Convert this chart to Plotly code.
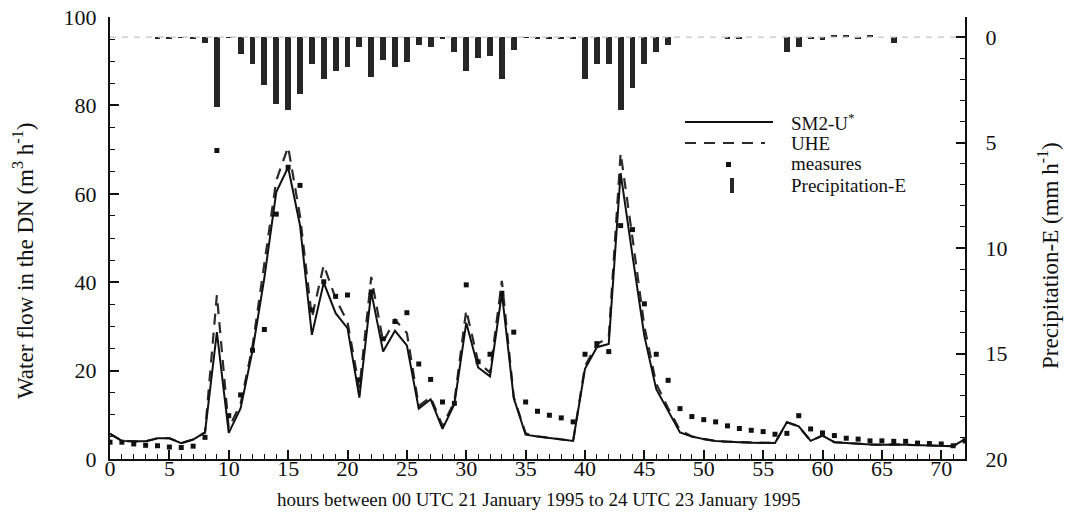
import plotly.graph_objects as go

# Hourly time axis (hours after 00 UTC 21 January 1995)
hours = list(range(73))

# Simulated water flow, SM2-U* model (m3/h)
sm2u = [5.7, 4.1, 4.0, 4.0, 4.7, 4.7, 3.6, 4.4, 6.0, 28.7,
        5.9, 11.5, 24.5, 41.0, 60.4, 66.0, 52.9, 28.1, 39.9, 33.0,
        29.6, 13.9, 37.8, 24.3, 29.0, 25.7, 11.4, 13.5, 6.8, 12.4,
        30.8, 20.7, 18.7, 37.5, 13.8, 5.5, 5.1, 4.8, 4.5, 4.1,
        20.4, 25.3, 26.0, 64.7, 46.0, 27.8, 15.8, 10.9, 6.0, 5.1,
        4.5, 4.1, 3.9, 3.8, 3.7, 3.6, 3.6, 8.3, 7.4, 4.1,
        5.3, 3.8, 3.6, 3.5, 3.3, 3.2, 3.3, 3.2, 3.1, 3.0,
        2.9, 2.9, 4.5]

# Simulated water flow, UHE model (m3/h)
uhe = [5.7, 4.1, 4.0, 4.0, 4.7, 4.7, 3.6, 4.4, 6.0, 37.1,
       7.0, 12.5, 25.5, 44.0, 63.0, 70.6, 55.0, 32.0, 43.9, 36.3,
       31.0, 16.0, 41.2, 26.5, 31.5, 28.5, 12.0, 14.0, 7.5, 13.0,
       33.7, 22.0, 19.5, 40.3, 14.0, 5.8, 5.1, 4.8, 4.5, 4.1,
       21.0, 26.0, 27.5, 69.2, 50.0, 30.0, 17.0, 11.5, 6.5, 5.1,
       4.5, 4.1, 3.9, 3.8, 3.7, 3.6, 3.6, 8.3, 7.4, 4.1,
       5.3, 3.8, 3.6, 3.5, 3.3, 3.2, 3.3, 3.2, 3.1, 3.0,
       2.9, 2.9, 4.5]

# Measured water flow (m3/h)
measures = [3.8, 3.8, 3.4, 3.1, 3.0, 2.7, 2.6, 2.9, 4.9, 69.8,
            9.8, 14.5, 24.6, 29.3, 55.4, 66.0, 61.9, 33.7, 40.1, 36.8,
            37.1, 17.9, 37.8, 27.2, 31.1, 33.1, 21.5, 18.0, 12.9, 12.6,
            39.4, 22.0, 23.7, 37.5, 28.7, 12.9, 10.8, 9.9, 9.3, 8.4,
            23.7, 26.1, 24.3, 52.8, 51.9, 35.1, 23.7, 17.8, 11.4, 9.6,
            8.9, 8.4, 7.5, 6.9, 6.5, 6.2, 5.6, 5.8, 9.8, 6.8,
            5.9, 5.3, 4.7, 4.5, 4.1, 4.1, 4.0, 4.0, 3.6, 3.5,
            3.4, 3.0, 4.1]

# Precipitation minus evaporation (mm/h)
precip = [0.0, 0.0, 0.0, 0.0, 0.07, 0.07, 0.03, 0.07, 0.3, 3.3,
          0.03, 0.79, 1.29, 2.29, 3.18, 3.47, 2.68, 1.29, 2.0, 1.6,
          1.4, 0.47, 1.89, 1.09, 1.4, 1.2, 0.4, 0.47, 0.05, 0.71,
          1.61, 1.01, 0.9, 2.0, 0.6, 0.02, 0.05, 0.05, 0.05, 0.05,
          2.0, 1.29, 1.29, 3.47, 2.4, 1.29, 0.71, 0.4, 0.0, 0.0,
          0.0, 0.0, 0.07, 0.05, 0.0, 0.0, 0.0, 0.69, 0.47, 0.1,
          0.12, -0.1, -0.12, 0.08, -0.1, 0.0, 0.27, 0.0, 0.0, 0.0,
          0.0, 0.0, 0.0]

x_ticks = list(range(0, 71, 5))
flow_ticks = [0, 20, 40, 60, 80, 100]
precip_ticks = [0, 5, 10, 15, 20]

SERIF = "Liberation Serif, Times New Roman, serif"
INK = "#111111"
BAR = "#262626"
DASH = "11px,8px"

fig = go.Figure()

# zero reference of the precipitation axis
fig.add_trace(go.Scatter(
    x=[0, 72], y=[0, 0], yaxis="y2", mode="lines",
    line=dict(color="#c4c4c4", width=1.3, dash="6px,6px"),
    hoverinfo="skip", showlegend=False))

fig.add_trace(go.Bar(
    x=hours, y=precip, yaxis="y2", width=0.5,
    marker=dict(color=BAR, line=dict(width=0)),
    name="Precipitation-E", showlegend=False))

fig.add_trace(go.Scatter(
    x=hours, y=uhe, mode="lines", name="UHE",
    line=dict(color="#2b2b2b", width=2.2, dash=DASH),
    showlegend=False))

fig.add_trace(go.Scatter(
    x=hours, y=sm2u, mode="lines", name="SM2-U*",
    line=dict(color=INK, width=2),
    showlegend=False))

fig.add_trace(go.Scatter(
    x=hours, y=measures, mode="markers", name="measures",
    marker=dict(symbol="square", size=5, color=INK, line=dict(width=0)),
    showlegend=False))

# key and axis titles placed in plot-pixel terms
L, R, T, B = 110, 965, 17, 459
def px(x):
    return (x - L) / (R - L)
def py(y):
    return 1 - (y - T) / (B - T)

shapes = [
    dict(type="line", xref="paper", yref="paper",
         x0=px(685), x1=px(773), y0=py(122), y1=py(122),
         line=dict(color=INK, width=2)),
    dict(type="line", xref="paper", yref="paper",
         x0=px(685), x1=px(765), y0=py(143), y1=py(143),
         line=dict(color="#2b2b2b", width=2.2, dash=DASH)),
    dict(type="rect", xref="paper", yref="paper",
         x0=px(726), x1=px(731), y0=py(162), y1=py(167),
         line=dict(width=0), fillcolor=INK),
    dict(type="rect", xref="paper", yref="paper",
         x0=px(730), x1=px(734), y0=py(178), y1=py(193),
         line=dict(width=0), fillcolor=BAR),
]

labels = ["SM2-U<sup>*</sup>", "UHE", "measures", "Precipitation-E"]
rows = [122, 143, 164, 185]
annotations = [
    dict(text=t, x=px(789), y=py(r), xref="paper", yref="paper",
         xanchor="left", yanchor="middle", showarrow=False,
         font=dict(family=SERIF, size=19, color=INK))
    for t, r in zip(labels, rows)
]
annotations += [
    dict(text="Water flow in the DN (m<sup>3</sup> h<sup>-1</sup>)",
         x=px(23), y=py(261), xref="paper", yref="paper",
         xanchor="center", yanchor="middle", textangle=-90,
         showarrow=False, font=dict(family=SERIF, size=23, color=INK)),
    dict(text="Precipitation-E (mm h<sup>-1</sup>)",
         x=px(1049), y=py(256), xref="paper", yref="paper",
         xanchor="center", yanchor="middle", textangle=-90,
         showarrow=False, font=dict(family=SERIF, size=23, color=INK)),
    dict(text="hours between 00 UTC 21 January 1995 to 24 UTC 23 January 1995",
         x=px(538), y=py(500), xref="paper", yref="paper",
         xanchor="center", yanchor="middle",
         showarrow=False, font=dict(family=SERIF, size=19, color=INK)),
]

common = dict(ticks="inside", ticklen=9, tickwidth=2, tickcolor=INK,
              showline=True, linecolor=INK, linewidth=2, showgrid=False,
              zeroline=False, automargin=False, tickfont=dict(size=22))

fig.update_layout(
    width=1066, height=519,
    margin=dict(l=L, r=1066 - R, t=T, b=519 - B, autoexpand=False),
    paper_bgcolor="white", plot_bgcolor="white",
    font=dict(family=SERIF, size=22, color=INK),
    bargap=0, showlegend=False,
    shapes=shapes, annotations=annotations,
    xaxis=dict(
        range=[0, 72], tickvals=x_ticks, ticklabelstandoff=-11,
        minor=dict(dtick=1, ticks="inside", ticklen=5, tickcolor=INK,
                   tickwidth=1, showgrid=False),
        **common),
    yaxis=dict(
        range=[0, 100], tickvals=flow_ticks, ticklabelstandoff=7,
        minor=dict(dtick=5, ticks="inside", ticklen=5, tickcolor=INK,
                   tickwidth=1, showgrid=False),
        **common),
    yaxis2=dict(
        overlaying="y", side="right", range=[20, -0.95],
        tickvals=precip_ticks, ticklabelstandoff=14,
        minor=dict(dtick=1, ticks="inside", ticklen=5, tickcolor=INK,
                   tickwidth=1, showgrid=False),
        **common),
)

fig.write_html("out.html")
